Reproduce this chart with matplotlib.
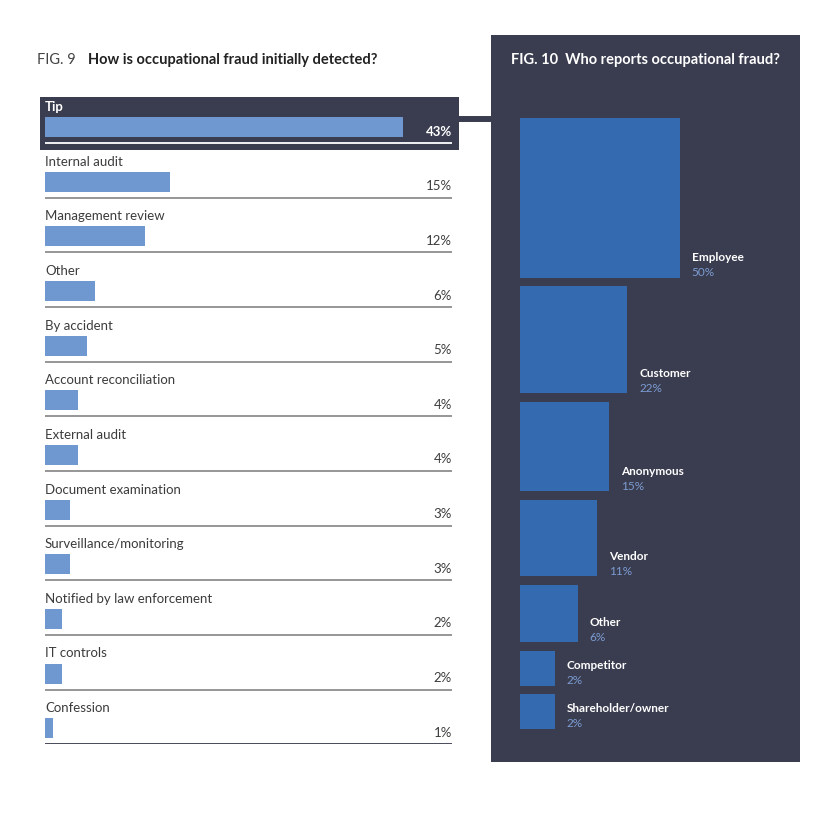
import numpy as np
import matplotlib
matplotlib.use("Agg")
import matplotlib.pyplot as plt
from matplotlib.patches import Rectangle
from matplotlib.lines import Line2D


# ============================================================
# DATA
# ============================================================

DETECTION_LABELS = [
    "Tip", "Internal audit", "Management review", "Other", "By accident",
    "Account reconciliation", "External audit", "Document examination",
    "Surveillance/monitoring", "Notified by law enforcement", "IT controls",
    "Confession",
]
DETECTION_VALUES = [43, 15, 12, 6, 5, 4, 4, 3, 3, 2, 2, 1]

REPORTER_LABELS = ["Employee", "Customer", "Anonymous", "Vendor", "Other",
                   "Competitor", "Shareholder/owner"]
REPORTER_VALUES = [50, 22, 15, 11, 6, 2, 2]


# ============================================================
# STYLE
# ============================================================

W, H = 822, 827
DARK = "#3a3d4f"
BAR_LIGHT = "#7098d0"
BAR_DARK = "#346bb0"
VALUE_BLUE = "#7c9cd3"
TEXT_GRAY = "#3c3c3c"
RULE_GRAY = "#8e8e8e"

plt.rcParams["font.family"] = ["Lato", "DejaVu Sans"]


def px_box(x0, y0, x1, y1):
    return [x0 / W, 1 - y1 / H, (x1 - x0) / W, (y1 - y0) / H]


fig = plt.figure(figsize=(W / 100, H / 100), dpi=100)
fig.patch.set_facecolor("white")

# ------------------------------------------------------------
# FIG. 9 -- horizontal bars
# ------------------------------------------------------------
X_MAX = 48.86
n = len(DETECTION_VALUES)
ax = fig.add_axes(px_box(45, 88.4, 452, 744.2))
ax.set_xlim(0, X_MAX)
ax.set_ylim(n, 0)
ax.axis("off")

rows = np.arange(n)

# highlighted "Tip" row
ax.add_patch(Rectangle((-0.6, 0.157), X_MAX + 1.44, 0.971, facecolor=DARK,
                       edgecolor="none", zorder=0, clip_on=False))

ax.barh(rows + 0.707, DETECTION_VALUES, height=0.366, color=BAR_LIGHT, zorder=2)

rule_colors = ["white"] + [RULE_GRAY] * (n - 2) + [DARK]
ax.hlines(rows + 1, 0, X_MAX, colors=rule_colors, linewidth=1.3, zorder=3)

for i, (label, value) in enumerate(zip(DETECTION_LABELS, DETECTION_VALUES)):
    color = "white" if i == 0 else TEXT_GRAY
    weight = "bold" if i == 0 else "normal"
    ax.text(0, i + 0.34, label, color=color, fontsize=9.5, fontweight=weight,
            va="center", ha="left")
    ax.text(X_MAX, i + 0.79, f"{value}%", color=color, fontsize=9.5,
            fontweight=weight, va="center", ha="right")

fig.text(37 / W, 1 - 60 / H, "FIG. 9", fontsize=10.5, color="#444444",
         va="center", ha="left")
fig.text(88 / W, 1 - 60 / H, "How is occupational fraud initially detected?",
         fontsize=10.5, fontweight="bold", color="#222222", va="center", ha="left")

# connector from the Tip row to the dark panel
fig.add_artist(Line2D([459 / W, 491 / W], [1 - 119 / H, 1 - 119 / H],
                      color=DARK, linewidth=4.3))

# ------------------------------------------------------------
# FIG. 10 -- stacked squares, area ~ value
# ------------------------------------------------------------
PANEL_W, PANEL_H = 309, 727
axr = fig.add_axes(px_box(491, 35, 800, 762))
axr.set_facecolor(DARK)
axr.set_xlim(0, PANEL_W)
axr.set_ylim(PANEL_H, 0)
axr.set_xticks([])
axr.set_yticks([])
for spine in axr.spines.values():
    spine.set_visible(False)

axr.text(20, 25, "FIG. 10  Who reports occupational fraud?", color="white",
         fontsize=10.5, fontweight="bold", va="center", ha="left")

side = 22.1 * np.sqrt(np.array(REPORTER_VALUES, dtype=float)) + 3.5
gap = 8.5
left = 29.0
top = 83.0
for label, value, s in zip(REPORTER_LABELS, REPORTER_VALUES, side):
    axr.bar(left, s, width=s, bottom=top, align="edge", color=BAR_DARK)
    bottom = top + s
    axr.text(left + s + 12, bottom - 20, label, color="white", fontsize=8.5,
             fontweight="bold", va="center", ha="left")
    axr.text(left + s + 12, bottom - 5, f"{value}%", color=VALUE_BLUE,
             fontsize=8.5, va="center", ha="left")
    top = bottom + gap

fig.savefig("out.png", dpi=100, facecolor=fig.get_facecolor())
